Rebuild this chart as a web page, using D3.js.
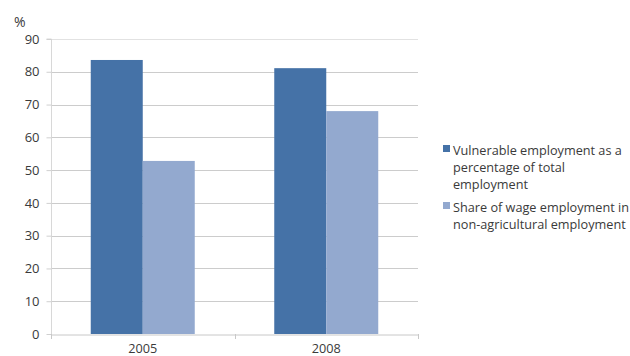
<!DOCTYPE html>
<html><head><meta charset="utf-8">
<script src="https://cdn.jsdelivr.net/npm/d3@7"></script>
<style>body{margin:0;background:#fff;}svg{display:block;font-family:"Open Sans",sans-serif;}</style>
</head><body><svg id="c" width="630" height="356"></svg>
<script>
const years = ["2005", "2008"];
const seriesNames = ["Vulnerable employment as a percentage of total employment", "Share of wage employment in non-agricultural employment"];
const vulnerable = [83.6, 81.1];
const wageShare = [52.8, 68.0];
const yTicks = [0,10,20,30,40,50,60,70,80,90];
const legendLines = [["Vulnerable employment as a","percentage of total","employment"],["Share of wage employment in","non-agricultural employment"]];
const colors = ["#4572A7", "#93A9CF"];

(function(){
const svg = d3.select("#c");
const pL = 51, pR = 418, pT = 39, pB = 334;
const x = d3.scaleBand().domain(years).range([pL, pR]).paddingInner(0).paddingOuter(0);
const barW = 52;
const y = d3.scaleLinear().domain([0, 90]).range([pB, pT]);
const txt = "#3a3a3a";

// gridlines
svg.append("g").selectAll("line").data(yTicks.filter(d=>d>0)).join("line")
  .attr("x1", pL).attr("x2", pR)
  .attr("y1", d=>Math.round(y(d))+0.5).attr("y2", d=>Math.round(y(d))+0.5)
  .attr("stroke", d=>d===90?"#e2e2e2":"#cccccc").attr("stroke-width", 1);

// bars
const data = years.map((yr,i)=>({yr, vals:[vulnerable[i], wageShare[i]]}));
const g = svg.append("g");
data.forEach(d=>{
  const cx = x(d.yr) + x.bandwidth()/2;
  d.vals.forEach((v,j)=>{
    g.append("rect")
      .attr("x", cx - barW + j*barW).attr("width", barW)
      .attr("y", y(v)).attr("height", y(0)-y(v))
      .attr("fill", colors[j]);
  });
});

// y axis
const ya = d3.axisLeft(y).tickValues(yTicks).tickSize(5).tickPadding(7).tickFormat(d3.format("d"));
const yg = svg.append("g").attr("transform", `translate(${pL+0.5},0)`).call(ya);
yg.select(".domain").attr("stroke", "#d8d8d8").attr("d", `M-5,${pT}H0V${pB}`);
yg.selectAll(".tick line").attr("stroke", "#d0d0d0");
yg.selectAll(".tick text").attr("fill", txt).style("font-size", "13px").style("font-family", "Open Sans");

// x axis
const xa = d3.axisBottom(x).tickSize(0).tickPadding(9);
const xg = svg.append("g").attr("transform", `translate(0,${pB+0.5})`).call(xa);
xg.select(".domain").attr("stroke", "#c8c8c8");
xg.selectAll(".tick text").attr("fill", txt).style("font-size", "12.7px").style("font-family", "Open Sans");
// band boundary ticks
svg.append("g").selectAll("line").data([pL, x(years[1]), pR]).join("line")
  .attr("x1", d=>Math.round(d)+0.5).attr("x2", d=>Math.round(d)+0.5)
  .attr("y1", pB).attr("y2", pB+5).attr("stroke", "#c8c8c8");

// % label
svg.append("text").attr("x", 14).attr("y", 27).text("%").attr("fill", txt).style("font-size", "14px");

// legend
const lg = svg.append("g");
const legTop = [143, 200];
legendLines.forEach((lines,i)=>{
  lg.append("rect").attr("x", 443).attr("y", legTop[i]+2).attr("width", 7).attr("height", 7).attr("fill", colors[i]);
  lines.forEach((t,k)=>{
    lg.append("text").attr("x", 453).attr("y", legTop[i]+12 + k*17).text(t)
      .attr("fill", txt).style("font-size", "12.7px");
  });
});
})();
</script></body></html>
